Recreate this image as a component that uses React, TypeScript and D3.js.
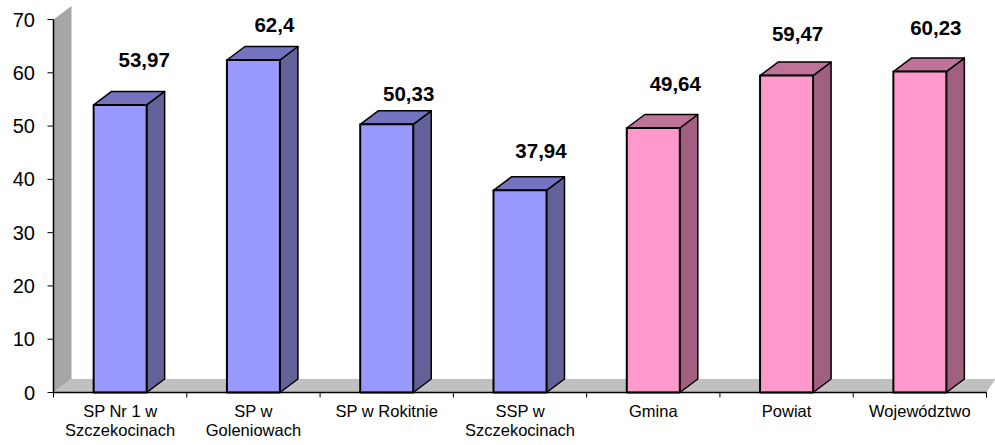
import React from "react";
import * as d3 from "d3";

const categories = [
    ["SP Nr 1 w", "Szczekocinach"],
    ["SP w", "Goleniowach"],
    ["SP w Rokitnie"],
    ["SSP w", "Szczekocinach"],
    ["Gmina"],
    ["Powiat"],
    ["Województwo"],
];
const values = [53.97, 62.4, 50.33, 37.94, 49.64, 59.47, 60.23];
const valueLabels = ["53,97", "62,4", "50,33", "37,94", "49,64", "59,47", "60,23"];
const labelDx = [24, 21, 22, 21, 22, 11, 16];
const labelDy = [-38, -28, -23, -32, -37, -35, -37];
const yTicks = [0, 10, 20, 30, 40, 50, 60, 70];

const width = 995;
const height = 445;
const depthX = 18;
const depthY = 13.5;
const font = "'Liberation Sans', Arial, sans-serif";

const blue = { front: "#9999ff", top: "#7373bf", side: "#626299" };
const pink = { front: "#ff99cc", top: "#bf7399", side: "#a16080" };

export default function App() {
    const x = d3.scaleBand<number>().domain(d3.range(categories.length)).range([53.5, 986.5]);
    const y = d3.scaleLinear().domain([0, 70]).range([392.5, 19.5]);
    const barW = 53;
    const x0 = x.range()[0];
    const x1 = x.range()[1];
    const y0 = y(0);
    const yTop = y(70);

    return (
        <svg
            width={width}
            height={height}
            viewBox={`0 0 ${width} ${height}`}
            style={{ position: "absolute", left: 0, top: 0, background: "white" }}
        >
            {/* back wall and floor */}
            <path
                d={`M${x0},${yTop}L${x0 + depthX},${yTop - depthY}V${y0 - depthY}L${x0},${y0}Z`}
                fill="#a6a6a6"
            />
            <path
                d={`M${x0},${y0}L${x0 + depthX},${y0 - depthY}H${x1 + 9}L${x1},${y0}Z`}
                fill="#c0c0c0"
            />

            {values.map((v, i) => {
                const c = i < 4 ? blue : pink;
                const left = x(i)! + (x.bandwidth() - barW) / 2;
                const right = left + barW;
                const top = y(v);
                return (
                    <g key={i} stroke="#000" strokeLinejoin="round">
                        <path
                            d={`M${right},${top}L${right + depthX},${top - depthY}V${y0 - depthY}L${right},${y0}Z`}
                            fill={c.side}
                            strokeWidth={1.5}
                        />
                        <path
                            d={`M${left},${top}L${left + depthX},${top - depthY}H${right + depthX}L${right},${top}Z`}
                            fill={c.top}
                            strokeWidth={1.5}
                        />
                        <rect x={left} y={top} width={barW} height={y0 - top} fill={c.front} strokeWidth={2} />
                        <text
                            x={left + barW / 2 + labelDx[i]}
                            y={top + labelDy[i]}
                            textAnchor="middle"
                            stroke="none"
                            fill="#000"
                            fontFamily={font}
                            fontSize={20.5}
                            fontWeight="bold"
                        >
                            {valueLabels[i]}
                        </text>
                    </g>
                );
            })}

            {/* axes */}
            <path d={`M${x0},${yTop}V${y0}H${x1}`} fill="none" stroke="#000" strokeWidth={1.5} />
            {yTicks.map((t) => (
                <g key={t}>
                    <line x1={x0 - 6} x2={x0} y1={y(t)} y2={y(t)} stroke="#000" strokeWidth={1} />
                    <text x={35} y={y(t) + 7} textAnchor="end" fontFamily={font} fontSize={20} fill="#000">
                        {t}
                    </text>
                </g>
            ))}
            {d3.range(categories.length + 1).map((i) => {
                const tx = x0 + i * x.bandwidth();
                return <line key={i} x1={tx} x2={tx} y1={y0} y2={y0 + 5} stroke="#000" strokeWidth={1} />;
            })}
            {categories.map((lines, i) => (
                <text
                    key={i}
                    textAnchor="middle"
                    fontFamily={font}
                    fontSize={16.5}
                    fill="#000"
                >
                    {lines.map((l, j) => (
                        <tspan key={j} x={x(i)! + x.bandwidth() / 2} y={417 + j * 19}>
                            {l}
                        </tspan>
                    ))}
                </text>
            ))}
        </svg>
    );
}
